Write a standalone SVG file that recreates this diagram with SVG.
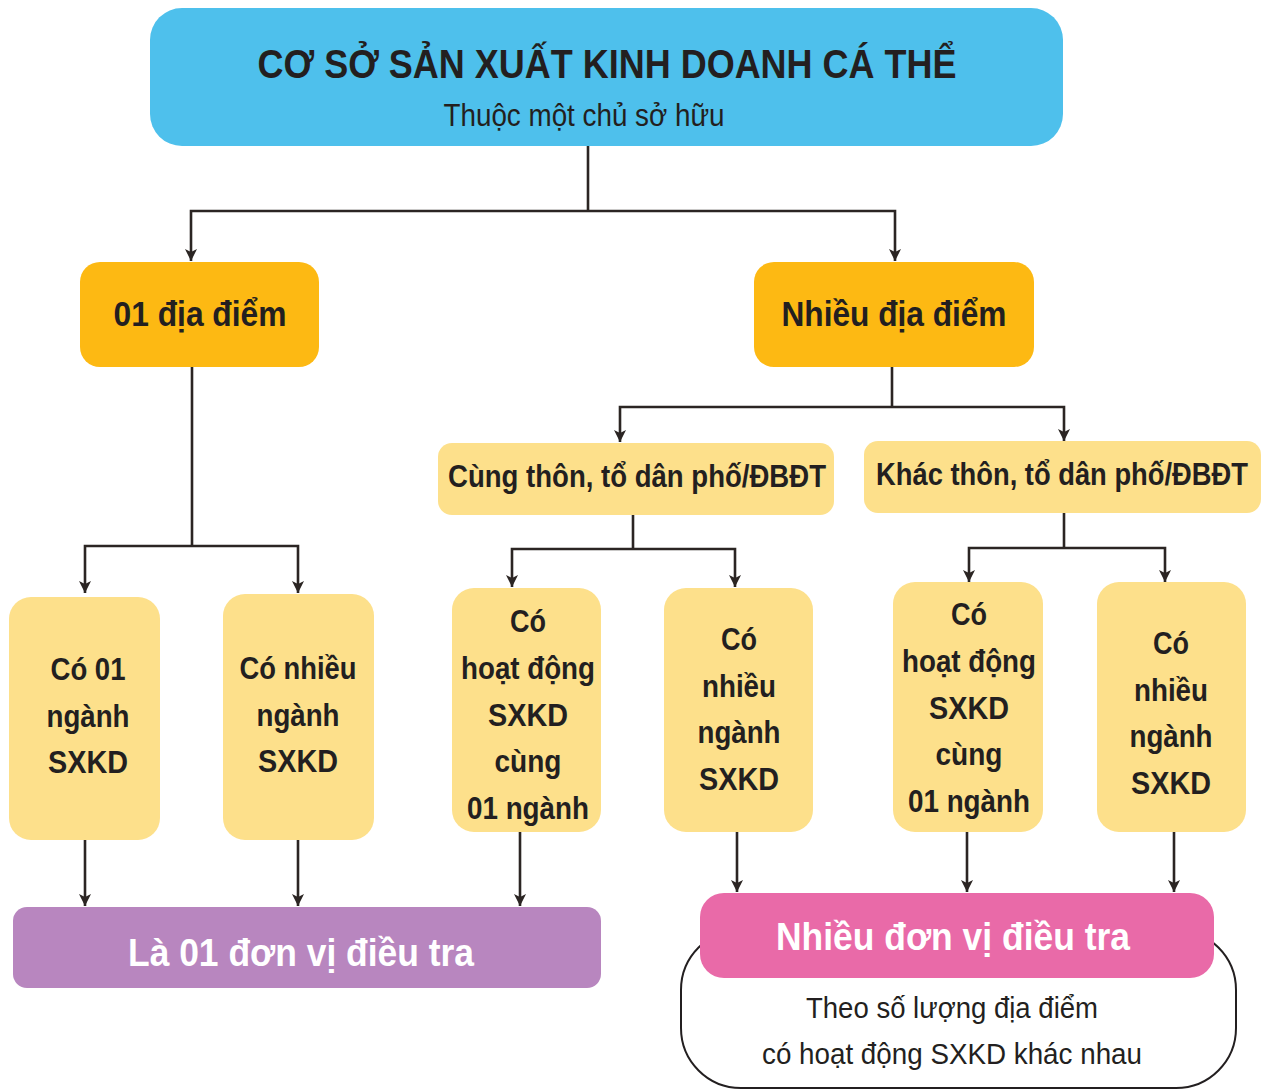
<svg xmlns="http://www.w3.org/2000/svg" width="1266" height="1092" viewBox="0 0 1266 1092">
<defs>
<marker id="arr" viewBox="0 0 10 10" refX="10" refY="5" markerWidth="15" markerHeight="12" markerUnits="userSpaceOnUse" orient="auto">
<path d="M0,0 L10,5 L0,10 L2.5,5 Z" fill="#2B2523"/>
</marker>
<style>
.t{font-family:"Liberation Sans Narrow","Liberation Sans",Arial,sans-serif;fill:#231F20;text-anchor:middle}
.b{font-weight:bold}
.w{fill:#FFFFFF}
.top{fill:#4EC0EC}
.org{fill:#FDB913}
.lt{fill:#FDE08B}
.pur{fill:#B886BF}
.pnk{fill:#E96AA8}
.c{fill:none;stroke:#2B2523;stroke-width:2.6}
.ca{fill:none;stroke:#2B2523;stroke-width:2.6;marker-end:url(#arr)}
</style>
</defs>
<rect width="1266" height="1092" fill="#FFFFFF"/>

<g id="connectors">
<path class="c" d="M588,146 V211"/>
<path class="ca" d="M588,211 H191 V261"/>
<path class="ca" d="M588,211 H895 V261"/>
<path class="c" d="M192,367 V546"/>
<path class="ca" d="M192,546 H85 V593"/>
<path class="ca" d="M192,546 H298 V593"/>
<path class="c" d="M892,367 V407"/>
<path class="ca" d="M892,407 H620 V442"/>
<path class="ca" d="M892,407 H1064 V441"/>
<path class="c" d="M633,515 V549"/>
<path class="ca" d="M633,549 H512 V587"/>
<path class="ca" d="M633,549 H735 V587"/>
<path class="c" d="M1064,513 V548"/>
<path class="ca" d="M1064,548 H969 V582"/>
<path class="ca" d="M1064,548 H1165 V582"/>
<path class="ca" d="M85,840 V906"/>
<path class="ca" d="M298,840 V906"/>
<path class="ca" d="M520,832 V906"/>
<path class="ca" d="M737,832 V892"/>
<path class="ca" d="M967,832 V892"/>
<path class="ca" d="M1174,832 V892"/>
</g>

<g id="root">
<rect class="top" x="150" y="8" width="913" height="138" rx="32"/>
<text class="t b" x="607" y="78" font-size="40" textLength="699" lengthAdjust="spacingAndGlyphs">CƠ SỞ SẢN XUẤT KINH DOANH CÁ THỂ</text>
<text class="t" x="584" y="126" font-size="32" textLength="281" lengthAdjust="spacingAndGlyphs">Thuộc một chủ sở hữu</text>
</g>

<g id="mot-dia-diem">
<rect class="org" x="80" y="262" width="239" height="105" rx="20"/>
<text class="t b" x="200" y="326" font-size="35" textLength="173" lengthAdjust="spacingAndGlyphs">01 địa điểm</text>
</g>

<g id="nhieu-dia-diem">
<rect class="org" x="754" y="262" width="280" height="105" rx="20"/>
<text class="t b" x="894" y="326" font-size="35" textLength="225" lengthAdjust="spacingAndGlyphs">Nhiều địa điểm</text>
</g>

<g id="cung-thon">
<rect class="lt" x="438" y="443" width="396" height="72" rx="14"/>
<text class="t b" x="637" y="487" font-size="31" textLength="378" lengthAdjust="spacingAndGlyphs">Cùng thôn, tổ dân phố/ĐBĐT</text>
</g>

<g id="khac-thon">
<rect class="lt" x="864" y="441" width="397" height="72" rx="14"/>
<text class="t b" x="1062" y="485" font-size="31" textLength="372" lengthAdjust="spacingAndGlyphs">Khác thôn, tổ dân phố/ĐBĐT</text>
</g>

<g id="co-01-nganh">
<rect class="lt" x="9" y="597" width="151" height="243" rx="22"/>
<text class="t b" x="88" y="680" font-size="31" textLength="75" lengthAdjust="spacingAndGlyphs">Có 01</text>
<text class="t b" x="88" y="727" font-size="31" textLength="83" lengthAdjust="spacingAndGlyphs">ngành</text>
<text class="t b" x="88" y="773" font-size="31" textLength="80" lengthAdjust="spacingAndGlyphs">SXKD</text>
</g>

<g id="co-nhieu-nganh-1">
<rect class="lt" x="223" y="594" width="151" height="246" rx="22"/>
<text class="t b" x="298" y="679" font-size="31" textLength="117" lengthAdjust="spacingAndGlyphs">Có nhiều</text>
<text class="t b" x="298" y="726" font-size="31" textLength="83" lengthAdjust="spacingAndGlyphs">ngành</text>
<text class="t b" x="298" y="772" font-size="31" textLength="80" lengthAdjust="spacingAndGlyphs">SXKD</text>
</g>

<g id="cung-hoat-dong-1">
<rect class="lt" x="452" y="588" width="149" height="244" rx="22"/>
<text class="t b" x="528" y="632" font-size="31" textLength="36" lengthAdjust="spacingAndGlyphs">Có</text>
<text class="t b" x="528" y="679" font-size="31" textLength="134" lengthAdjust="spacingAndGlyphs">hoạt động</text>
<text class="t b" x="528" y="726" font-size="31" textLength="80" lengthAdjust="spacingAndGlyphs">SXKD</text>
<text class="t b" x="528" y="772" font-size="31" textLength="67" lengthAdjust="spacingAndGlyphs">cùng</text>
<text class="t b" x="528" y="819" font-size="31" textLength="122" lengthAdjust="spacingAndGlyphs">01 ngành</text>
</g>

<g id="co-nhieu-nganh-2">
<rect class="lt" x="664" y="588" width="149" height="244" rx="22"/>
<text class="t b" x="739" y="650" font-size="31" textLength="36" lengthAdjust="spacingAndGlyphs">Có</text>
<text class="t b" x="739" y="697" font-size="31" textLength="74" lengthAdjust="spacingAndGlyphs">nhiều</text>
<text class="t b" x="739" y="743" font-size="31" textLength="83" lengthAdjust="spacingAndGlyphs">ngành</text>
<text class="t b" x="739" y="790" font-size="31" textLength="80" lengthAdjust="spacingAndGlyphs">SXKD</text>
</g>

<g id="cung-hoat-dong-2">
<rect class="lt" x="893" y="582" width="150" height="250" rx="22"/>
<text class="t b" x="969" y="625" font-size="31" textLength="36" lengthAdjust="spacingAndGlyphs">Có</text>
<text class="t b" x="969" y="672" font-size="31" textLength="134" lengthAdjust="spacingAndGlyphs">hoạt động</text>
<text class="t b" x="969" y="719" font-size="31" textLength="80" lengthAdjust="spacingAndGlyphs">SXKD</text>
<text class="t b" x="969" y="765" font-size="31" textLength="67" lengthAdjust="spacingAndGlyphs">cùng</text>
<text class="t b" x="969" y="812" font-size="31" textLength="122" lengthAdjust="spacingAndGlyphs">01 ngành</text>
</g>

<g id="co-nhieu-nganh-3">
<rect class="lt" x="1097" y="582" width="149" height="250" rx="22"/>
<text class="t b" x="1171" y="654" font-size="31" textLength="36" lengthAdjust="spacingAndGlyphs">Có</text>
<text class="t b" x="1171" y="701" font-size="31" textLength="74" lengthAdjust="spacingAndGlyphs">nhiều</text>
<text class="t b" x="1171" y="747" font-size="31" textLength="83" lengthAdjust="spacingAndGlyphs">ngành</text>
<text class="t b" x="1171" y="794" font-size="31" textLength="80" lengthAdjust="spacingAndGlyphs">SXKD</text>
</g>

<g id="mot-don-vi">
<rect class="pur" x="13" y="907" width="588" height="81" rx="14"/>
<text class="t b w" x="301" y="966" font-size="39" textLength="346" lengthAdjust="spacingAndGlyphs">Là 01 đơn vị điều tra</text>
</g>

<g id="nhieu-don-vi">
<rect x="681" y="930" width="555" height="158" rx="60" fill="#FFFFFF" stroke="#231F20" stroke-width="2"/>
<rect class="pnk" x="700" y="893" width="514" height="85" rx="24"/>
<text class="t b w" x="953" y="950" font-size="39" textLength="354" lengthAdjust="spacingAndGlyphs">Nhiều đơn vị điều tra</text>
<text class="t" x="952" y="1018" font-size="29" textLength="292" lengthAdjust="spacingAndGlyphs">Theo số lượng địa điểm</text>
<text class="t" x="952" y="1064" font-size="29" textLength="380" lengthAdjust="spacingAndGlyphs">có hoạt động SXKD khác nhau</text>
</g>
</svg>
